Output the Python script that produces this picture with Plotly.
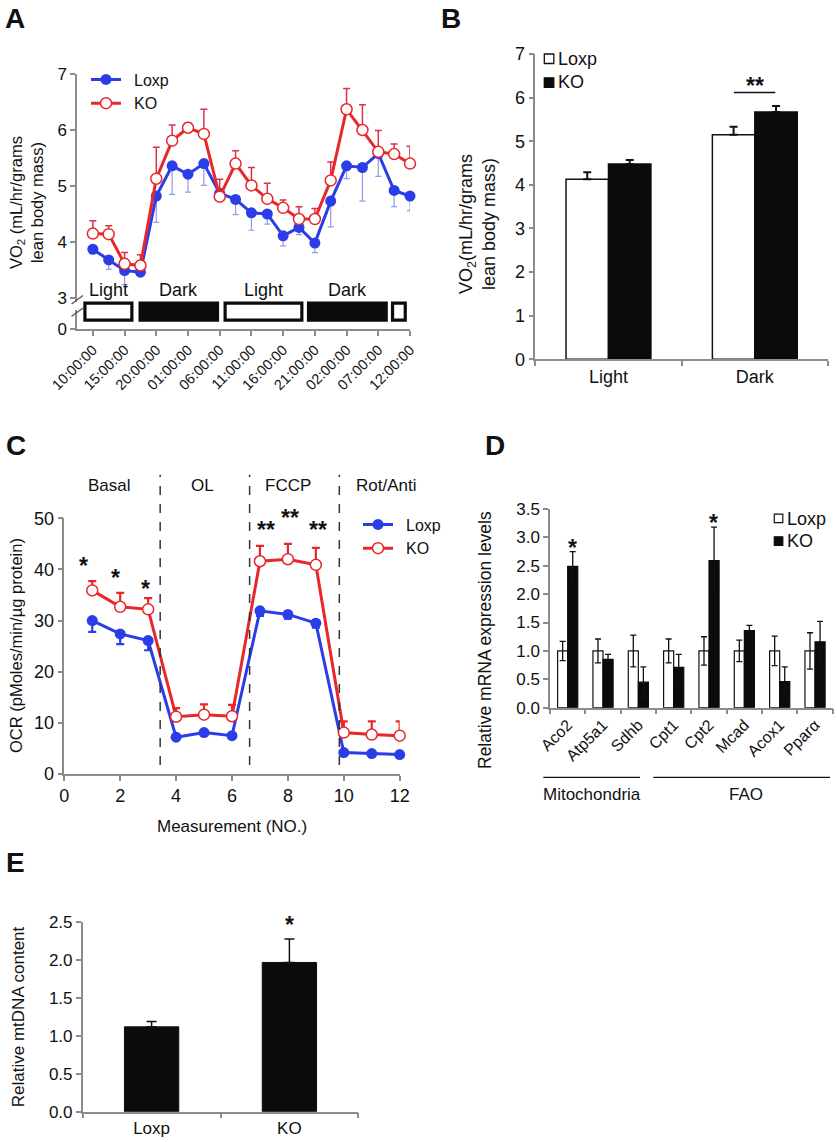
import plotly.graph_objects as go

W, H = 837, 1142
def PX(x): return x / W
def PY(y): return 1 - y / H

FONT = "Liberation Sans, Arial, Helvetica, sans-serif"
BLUE = "#2b3de6"
RED = "#e8272a"
AXC = "#8c8c8c"
INK = "#111111"
PAD = "\u2002"   # small gap between legend symbol and legend text

# ---------------- Panel A data ----------------
a_hours = [0, 2.5, 5, 7.5, 10, 12.5, 15, 17.5, 20, 22.5, 25, 27.5, 30, 32.5, 35, 37.5, 40, 42.5, 45, 47.5, 50]
a_loxp = [3.87, 3.68, 3.49, 3.46, 4.82, 5.36, 5.21, 5.40, 4.87, 4.76, 4.52, 4.50, 4.11, 4.26, 3.98, 4.73, 5.36, 5.33, 5.58, 4.92, 4.82]
a_loxp_err = [0.05, 0.17, 0.25, 0.03, 0.47, 0.51, 0.32, 0.39, 0.15, 0.27, 0.31, 0.18, 0.18, 0.13, 0.17, 0.46, 0.23, 0.60, 0.41, 0.29, 0.26]
a_ko = [4.15, 4.14, 3.61, 3.58, 5.13, 5.81, 6.04, 5.93, 4.81, 5.40, 5.01, 4.77, 4.61, 4.41, 4.41, 5.10, 6.37, 6.00, 5.61, 5.57, 5.40]
a_ko_err = [0.23, 0.15, 0.20, 0.19, 0.56, 0.28, 0.08, 0.44, 0.31, 0.23, 0.32, 0.28, 0.14, 0.22, 0.19, 0.33, 0.37, 0.45, 0.38, 0.18, 0.31]
a_tick_hours = [0, 5, 10, 15, 20, 25, 30, 35, 40, 45, 50]
a_tick_labels = ["10:00:00", "15:00:00", "20:00:00", "01:00:00", "06:00:00", "11:00:00",
                 "16:00:00", "21:00:00", "02:00:00", "07:00:00", "12:00:00"]
a_phase_names = ["Light", "Dark", "Light", "Dark", ""]
a_phase_start = [-1.25, 7.45, 20.85, 34.0, 47.25]
a_phase_end = [6.15, 19.65, 32.95, 46.25, 49.25]
A_Y_BOTTOM = 2.446   # axis break: the "0" position

# ---------------- Panel B data ----------------
b_cats = ["Light", "Dark"]
b_loxp = [4.13, 5.15]
b_loxp_err = [0.16, 0.18]
b_ko = [4.48, 5.67]
b_ko_err = [0.09, 0.14]

# ---------------- Panel C data ----------------
c_x = [1, 2, 3, 4, 5, 6, 7, 8, 9, 10, 11, 12]
c_loxp = [30.0, 27.4, 26.1, 7.2, 8.1, 7.5, 31.9, 31.2, 29.5, 4.2, 4.0, 3.8]
c_loxp_err = [2.2, 2.0, 1.9, 0.3, 0.4, 0.3, 1.0, 0.8, 0.9, 0.4, 0.3, 0.3]
c_ko = [35.9, 32.7, 32.2, 11.2, 11.6, 11.3, 41.6, 42.0, 40.9, 8.1, 7.7, 7.5]
c_ko_err = [1.8, 2.7, 2.2, 1.7, 2.0, 2.2, 3.0, 3.0, 3.3, 2.2, 2.6, 2.8]
c_phase_names = ["Basal", "OL", "FCCP", "Rot/Anti"]
c_phase_x = [1.63, 4.96, 8.0, 11.5]
c_injections = [3.43, 6.63, 9.84]
c_sig_x = [0.7, 1.82, 2.92, 7.23, 8.06, 9.07]
c_sig_y = [41.7, 39.4, 37.2, 48.7, 51.0, 48.7]
c_sig_text = ["*", "*", "*", "**", "**", "**"]

# ---------------- Panel D data ----------------
d_genes = ["Aco2", "Atp5a1", "Sdhb", "Cpt1", "Cpt2", "Mcad", "Acox1", "Pparα"]
d_loxp = [1.0, 1.0, 1.0, 1.0, 1.0, 1.0, 1.0, 1.0]
d_loxp_err = [0.17, 0.21, 0.28, 0.21, 0.25, 0.19, 0.26, 0.32]
d_ko = [2.49, 0.85, 0.45, 0.71, 2.59, 1.36, 0.46, 1.16]
d_ko_err = [0.26, 0.09, 0.27, 0.23, 0.59, 0.09, 0.26, 0.36]
d_sig_text = ["*", "", "", "", "*", "", "", ""]
d_groups = ["Mitochondria", "FAO"]

# ---------------- Panel E data ----------------
e_cats = ["Loxp", "KO"]
e_vals = [1.12, 1.97]
e_err = [0.07, 0.31]
e_sig_text = ["", "*"]

fig = go.Figure()

# ---- A traces ----
fig.add_trace(go.Scatter(
    x=a_hours, y=a_loxp, name=PAD + "Loxp", mode="lines+markers", xaxis="x", yaxis="y",
    line=dict(color=BLUE, width=3), marker=dict(size=11, color=BLUE),
    error_y=dict(type="data", symmetric=False, array=[0] * len(a_loxp), arrayminus=a_loxp_err,
                 color="rgba(70,90,215,0.6)", thickness=1.2, width=3),
    legend="legend", cliponaxis=False))
fig.add_trace(go.Scatter(
    x=a_hours, y=a_ko, name=PAD + "KO", mode="lines+markers", xaxis="x", yaxis="y",
    line=dict(color=RED, width=3), marker=dict(size=11, color="white", line=dict(color=RED, width=1.5)),
    error_y=dict(type="data", symmetric=False, array=a_ko_err, arrayminus=[0] * len(a_ko),
                 color="#e03048", thickness=1.5, width=3.5),
    legend="legend", cliponaxis=False))

# ---- B traces ----
fig.add_trace(go.Bar(
    x=b_cats, y=b_loxp, xaxis="x2", yaxis="y2", showlegend=False, width=0.29, offset=-0.29,
    marker=dict(color="white", line=dict(color="#111", width=1.5)),
    error_y=dict(type="data", symmetric=False, array=b_loxp_err, arrayminus=[0, 0], color="#111", thickness=2, width=4)))
fig.add_trace(go.Bar(
    x=b_cats, y=b_ko, xaxis="x2", yaxis="y2", showlegend=False, width=0.29, offset=0.0,
    marker=dict(color="#0b0b0b", line=dict(color="#0b0b0b", width=1.5)),
    error_y=dict(type="data", symmetric=False, array=b_ko_err, arrayminus=[0, 0], color="#111", thickness=2, width=4)))

# ---- C traces ----
fig.add_trace(go.Scatter(
    x=c_x, y=c_loxp, name=PAD + "Loxp", mode="lines+markers", xaxis="x3", yaxis="y3",
    line=dict(color=BLUE, width=3), marker=dict(size=11, color=BLUE),
    error_y=dict(type="data", symmetric=False, array=[0] * 12, arrayminus=c_loxp_err,
                 color=BLUE, thickness=2.2, width=4),
    legend="legend2", cliponaxis=False))
fig.add_trace(go.Scatter(
    x=c_x, y=c_ko, name=PAD + "KO", mode="lines+markers", xaxis="x3", yaxis="y3",
    line=dict(color=RED, width=3), marker=dict(size=11, color="white", line=dict(color=RED, width=1.5)),
    error_y=dict(type="data", symmetric=False, array=c_ko_err, arrayminus=[0] * 12,
                 color=RED, thickness=2.2, width=4),
    legend="legend2", cliponaxis=False))

# ---- D traces ----
fig.add_trace(go.Bar(
    x=d_genes, y=d_loxp, xaxis="x4", yaxis="y4", showlegend=False, width=0.285, offset=-0.285,
    marker=dict(color="white", line=dict(color="#111", width=1.2)),
    error_y=dict(type="data", array=d_loxp_err, color="#111", thickness=1.3, width=3)))
fig.add_trace(go.Bar(
    x=d_genes, y=d_ko, xaxis="x4", yaxis="y4", showlegend=False, width=0.285, offset=0.0,
    marker=dict(color="#0b0b0b", line=dict(color="#0b0b0b", width=1.2)),
    error_y=dict(type="data", array=d_ko_err, color="#111", thickness=1.3, width=3)))

# ---- E traces ----
fig.add_trace(go.Bar(
    x=e_cats, y=e_vals, xaxis="x5", yaxis="y5", showlegend=False, width=0.394, offset=-0.197,
    marker=dict(color="#0b0b0b", line=dict(color="#0b0b0b", width=1)),
    error_y=dict(type="data", symmetric=False, array=e_err, arrayminus=[0, 0], color="#111", thickness=1.5, width=5)))

axis_common = dict(showline=True, linecolor=AXC, linewidth=1.5, ticks="outside", tickcolor=AXC,
                   ticklen=5, tickwidth=1.5, showgrid=False, zeroline=False, automargin=False,
                   tickfont=dict(family=FONT, size=17, color=INK))

fig.update_layout(
    width=W, height=H, margin=dict(l=0, r=0, t=0, b=0, autoexpand=False),
    paper_bgcolor="white", plot_bgcolor="white",
    font=dict(family=FONT, color=INK),
    barmode="overlay",
    xaxis=dict(axis_common, domain=[PX(77), PX(410)], anchor="y", range=[-2.5, 50],
               tickvals=a_tick_hours, ticktext=a_tick_labels, tickangle=-45,
               tickfont=dict(family=FONT, size=14.5, color=INK)),
    yaxis=dict(axis_common, domain=[PY(329), PY(74)], anchor="x", range=[A_Y_BOTTOM, 7],
               tickvals=[A_Y_BOTTOM, 3, 4, 5, 6, 7], ticktext=["0", "3", "4", "5", "6", "7"]),
    xaxis2=dict(axis_common, domain=[PX(535.3), PX(828)], anchor="y2", type="category",
                range=[-0.5, 1.5], tickson="boundaries", tickfont=dict(family=FONT, size=18, color=INK)),
    yaxis2=dict(axis_common, domain=[PY(359.3), PY(54)], anchor="x2", range=[0, 7], dtick=1,
                tickfont=dict(family=FONT, size=18, color=INK)),
    xaxis3=dict(axis_common, domain=[PX(64.3), PX(399.7)], anchor="y3", range=[0, 12], dtick=2,
                tickfont=dict(family=FONT, size=18, color=INK)),
    yaxis3=dict(axis_common, domain=[PY(774), PY(518.3)], anchor="x3", range=[0, 50], dtick=10,
                tickfont=dict(family=FONT, size=18, color=INK)),
    xaxis4=dict(axis_common, domain=[PX(550), PX(832.7)], anchor="y4", type="category",
                range=[-0.5, 7.5], tickson="boundaries", tickangle=-45,
                tickfont=dict(family=FONT, size=16, color=INK)),
    yaxis4=dict(axis_common, domain=[PY(707.7), PY(509)], anchor="x4", range=[0, 3.5], dtick=0.5,
                tickformat=".1f"),
    xaxis5=dict(axis_common, domain=[PX(82.7), PX(358.3)], anchor="y5", type="category",
                range=[-0.5, 1.5], tickson="boundaries"),
    yaxis5=dict(axis_common, domain=[PY(1111.7), PY(922.3)], anchor="x5", range=[0, 2.5], dtick=0.5,
                tickformat=".1f"),
    legend=dict(x=PX(86), y=PY(62.5), xanchor="left", yanchor="top", bgcolor="rgba(0,0,0,0)",
                font=dict(family=FONT, size=16, color=INK), tracegroupgap=0),
    legend2=dict(x=PX(358), y=PY(507.5), xanchor="left", yanchor="top", bgcolor="rgba(0,0,0,0)",
                 font=dict(family=FONT, size=16, color=INK), tracegroupgap=0),
)

shapes = []
ann = []

def text(x, y, s, size=16, bold=False, angle=0, xanchor="center", xref="paper", yref="paper", color=INK):
    ann.append(dict(x=x, y=y, xref=xref, yref=yref, text=("<b>%s</b>" % s) if bold else s,
                    showarrow=False, textangle=angle, xanchor=xanchor, yanchor="middle",
                    font=dict(family=FONT, size=size, color=color)))

# Panel letters
for letter, (lx, ly) in zip("ABCDE", [(15, 18), (451, 18), (16, 445), (495, 445), (15, 862)]):
    text(PX(lx), PY(ly), letter, size=28, bold=True)

# ---- A decorations ----
for name, s0, s1 in zip(a_phase_names, a_phase_start, a_phase_end):
    fill = "#0b0b0b" if name == "Dark" else "white"
    shapes.append(dict(type="rect", xref="x", yref="y", x0=s0, x1=s1, y0=2.604, y1=2.907,
                       line=dict(color="#0b0b0b", width=3.2), fillcolor=fill))
    if name:
        text((s0 + s1) / 2, 3.143, name, size=18, xref="x", yref="y")
# axis break marks
shapes.append(dict(type="rect", xref="paper", yref="paper", x0=PX(75), x1=PX(79.5), y0=PY(310), y1=PY(302),
                   line=dict(width=0), fillcolor="white"))
shapes.append(dict(type="line", xref="paper", yref="paper", x0=PX(71.5), y0=PY(304), x1=PX(83), y1=PY(295.5),
                   line=dict(color="#555", width=1.3)))
shapes.append(dict(type="line", xref="paper", yref="paper", x0=PX(71.5), y0=PY(316.5), x1=PX(83), y1=PY(308),
                   line=dict(color="#555", width=1.3)))
text(PX(26), PY(203), "VO<sub>2</sub> (mL/hr/grams<br>lean body mass)", size=16.5, angle=-90)

# ---- B decorations ----
shapes.append(dict(type="rect", xref="paper", yref="paper", x0=PX(544.3), x1=PX(553.8), y0=PY(63.5), y1=PY(54),
                   line=dict(color="#111", width=1.3), fillcolor="white"))
shapes.append(dict(type="rect", xref="paper", yref="paper", x0=PX(544.3), x1=PX(553.8), y0=PY(87.3), y1=PY(77.8),
                   line=dict(color="#0b0b0b", width=1.3), fillcolor="#0b0b0b"))
text(PX(556), PY(59), "Loxp", size=18, xanchor="left")
text(PX(556), PY(82.5), "KO", size=18, xanchor="left")
shapes.append(dict(type="line", xref="x2", yref="y2", x0=0.857, x1=1.14, y0=6.12, y1=6.12,
                   line=dict(color="#111", width=1.5)))
text(1.0, 6.39 - 0.12, "**", size=23, bold=True, xref="x2", yref="y2")
text(PX(477), PY(224), "VO<sub>2</sub>(mL/hr/grams<br>lean body mass)", size=18, angle=-90)

# ---- C decorations ----
for xi in c_injections:
    shapes.append(dict(type="line", xref="x3", yref="y3 domain", x0=xi, x1=xi, y0=0.035, y1=1.17,
                       line=dict(color="#333", width=1.5, dash="dash")))
for name, xp in zip(c_phase_names, c_phase_x):
    text(PX(64.3 + xp * 27.95), PY(485), name, size=17)
for xs, ys, t in zip(c_sig_x, c_sig_y, c_sig_text):
    text(PX(64.3 + xs * 27.95), PY(774 - (ys - 1.0) * 5.114), t, size=23, bold=True)
text(PX(16), PY(646), "OCR (pMoles/min/µg protein)", size=16.5, angle=-90)
text(PX(232), PY(826.7), "Measurement (NO.)", size=17)

# ---- D decorations ----
shapes.append(dict(type="rect", xref="paper", yref="paper", x0=PX(774.3), x1=PX(782.8), y0=PY(522.7), y1=PY(514.2),
                   line=dict(color="#111", width=1.2), fillcolor="white"))
shapes.append(dict(type="rect", xref="paper", yref="paper", x0=PX(774.3), x1=PX(782.8), y0=PY(545.3), y1=PY(536.8),
                   line=dict(color="#0b0b0b", width=1.2), fillcolor="#0b0b0b"))
text(PX(784.5), PY(518.5), "Loxp", size=18, xanchor="left")
text(PX(784.5), PY(541), "KO", size=18, xanchor="left")
for i, t in enumerate(d_sig_text):
    if t:
        text(i + 0.14, d_ko[i] + d_ko_err[i] + 0.07, t, size=23, bold=True, xref="x4", yref="y4")
shapes.append(dict(type="line", xref="paper", yref="paper", x0=PX(543.3), x1=PX(640), y0=PY(777.3), y1=PY(777.3),
                   line=dict(color="#111", width=1.3)))
shapes.append(dict(type="line", xref="paper", yref="paper", x0=PX(653.3), x1=PX(830), y0=PY(777.3), y1=PY(777.3),
                   line=dict(color="#111", width=1.3)))
text(PX(592), PY(794), d_groups[0], size=17)
text(PX(746), PY(794), d_groups[1], size=17)
text(PX(485), PY(640), "Relative mRNA expression levels", size=17.5, angle=-90)

# ---- E decorations ----
for i, t in enumerate(e_sig_text):
    if t:
        text(i, e_vals[i] + e_err[i] + 0.18, t, size=23, bold=True, xref="x5", yref="y5")
text(PX(18.5), PY(1016.7), "Relative mtDNA content", size=17, angle=-90)

fig.update_layout(shapes=shapes, annotations=ann)

fig.write_html("out.html", config={"displayModeBar": False},
               post_script="document.body.style.margin='0';document.body.style.overflow='hidden';")
